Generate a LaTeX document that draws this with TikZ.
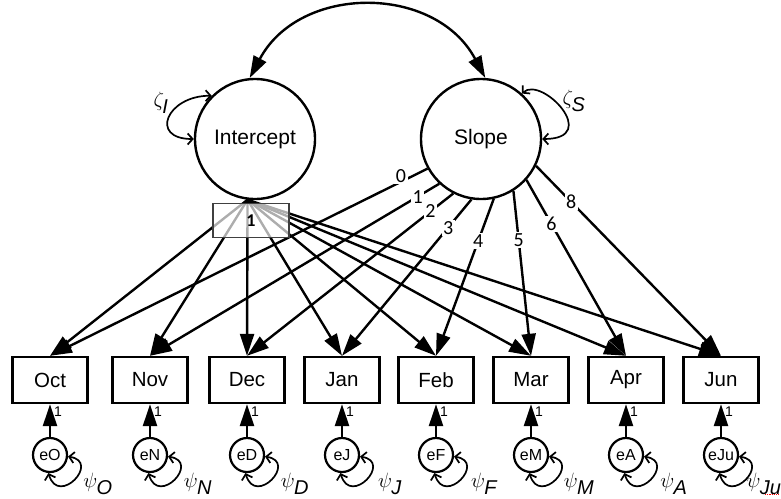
\documentclass[tikz,border=0pt]{standalone}
\usepackage{fontspec}
\setmainfont{Liberation Sans}
\newfontfamily\calibfont{Carlito}
\usetikzlibrary{arrows.meta}
\begin{document}
\begin{tikzpicture}[x=1pt,y=-1pt,
  latent/.style={circle,draw,line width=2.4pt,minimum size=120pt,inner sep=0pt,
    font=\fontsize{21}{25}\selectfont},
  observed/.style={rectangle,draw,line width=2.4pt,minimum width=75pt,
    minimum height=46pt,inner sep=0pt,font=\fontsize{20.5}{24}\selectfont},
  errorv/.style={circle,draw,line width=2.2pt,minimum size=34pt,inner sep=0pt,
    font=\fontsize{16}{19}\selectfont},
  loading/.style={line width=2.4pt,-{Triangle[length=22pt,width=14pt]}},
  covar/.style={line width=2.4pt,
    {Triangle[length=22pt,width=14pt]}-{Triangle[length=22pt,width=14pt]}},
  varloop/.style={line width=1.7pt,
    {Straight Barb[length=5pt,width=11pt]}-{Straight Barb[length=5pt,width=11pt]}},
  slabel/.style={fill=white,inner sep=1.5pt,font=\calibfont\fontsize{20}{22}\selectfont},
  onelabel/.style={font=\fontsize{14}{16}\selectfont,inner sep=1pt},
  greek/.style={font=\fontsize{20}{24}\selectfont,inner sep=0pt},
]
\useasboundingbox (0,0) rectangle (781,498);

% latent growth factors
\node[latent] (intercept) at (255,139) {Intercept};
\node[latent] (slope) at (481,139) {Slope};

% observed monthly measures and their residuals
\foreach \n/\x/\t/\dx in {O/50/Oct/48, N/150/Nov/48, D/247/Dec/48, J/342/Jan/48,
                      F/436/Feb/48, M/531/Mar/48, A/626/Apr/48, Ju/721/Jun/43}{
  \node[observed] (obs\n) at (\x,380) {\t};
  \node[errorv] (err\n) at (\x,455) {e\n};
  \draw[loading] (err\n.north) -- node[onelabel,pos=0.76,anchor=west,xshift=2pt]{1} (obs\n.south);
  \draw[varloop] (err\n.-5) .. controls +(33,5) and +(10,34) .. (err\n.-95);
  \node[greek] (psi\n) at ([shift={(\dx,29)}]err\n.center) {$\psi_{\textit{\n}}$};
}
\draw[red,line width=0.8pt,dash pattern=on 1.2pt off 1pt] (765,494.5) -- (779,494.5);

% covariance between intercept and slope
\draw[covar] (intercept.95) .. controls +(50,-94) and +(-50,-94) .. (slope.86);

% factor disturbances
\draw[varloop] (intercept.135) .. controls +(-45,0) and +(-45,0) .. (intercept.180);
\node[greek] (zetaI) at (161,103) {$\zeta_{\textit{I}}$};
\draw[varloop] (slope.48) .. controls +(20,-18) and +(60,0) .. (slope.0);
\node[greek] (zetaS) at (574,101) {$\zeta_{\textit{S}}$};

% intercept loadings (all fixed to 1)
\foreach \n in {O,N,D,J,F,M,A,Ju}
  \draw[loading] (intercept.-97.7) -- (obs\n.north);

% slope loadings (time scores)
\draw[loading] (slope.-151.3) -- node[slabel,pos=0.07,yshift=6pt]{0} (obsO.north);
\draw[loading] (slope.-133.7) -- node[slabel,pos=0.075]{1} (obsN.north);
\draw[loading] (slope.-117.8) -- node[slabel,pos=0.11]{2} (obsD.north);
\draw[loading] (slope.-99.8) -- node[slabel,pos=0.18]{3} (obsJ.north);
\draw[loading] (slope.-78) -- node[slabel,pos=0.27]{4} (obsF.north);
\draw[loading] (slope.-58) -- node[slabel,pos=0.30]{5} (obsM.north);
\draw[loading] (slope.-42) -- node[slabel,pos=0.25]{6} (obsA.north);
\draw[loading] (slope.-26.6) -- node[slabel,pos=0.19]{8} (obsJu.north);

% shared label box for the intercept loadings
\node[draw=black!75,line width=1.3pt,fill=white,fill opacity=0.68,text opacity=1,
      minimum width=76pt,minimum height=34pt,inner sep=0pt,
      font=\calibfont\bfseries\fontsize{18}{20}\selectfont] (onebox) at (251,220.5) {1};
\end{tikzpicture}
\end{document}
